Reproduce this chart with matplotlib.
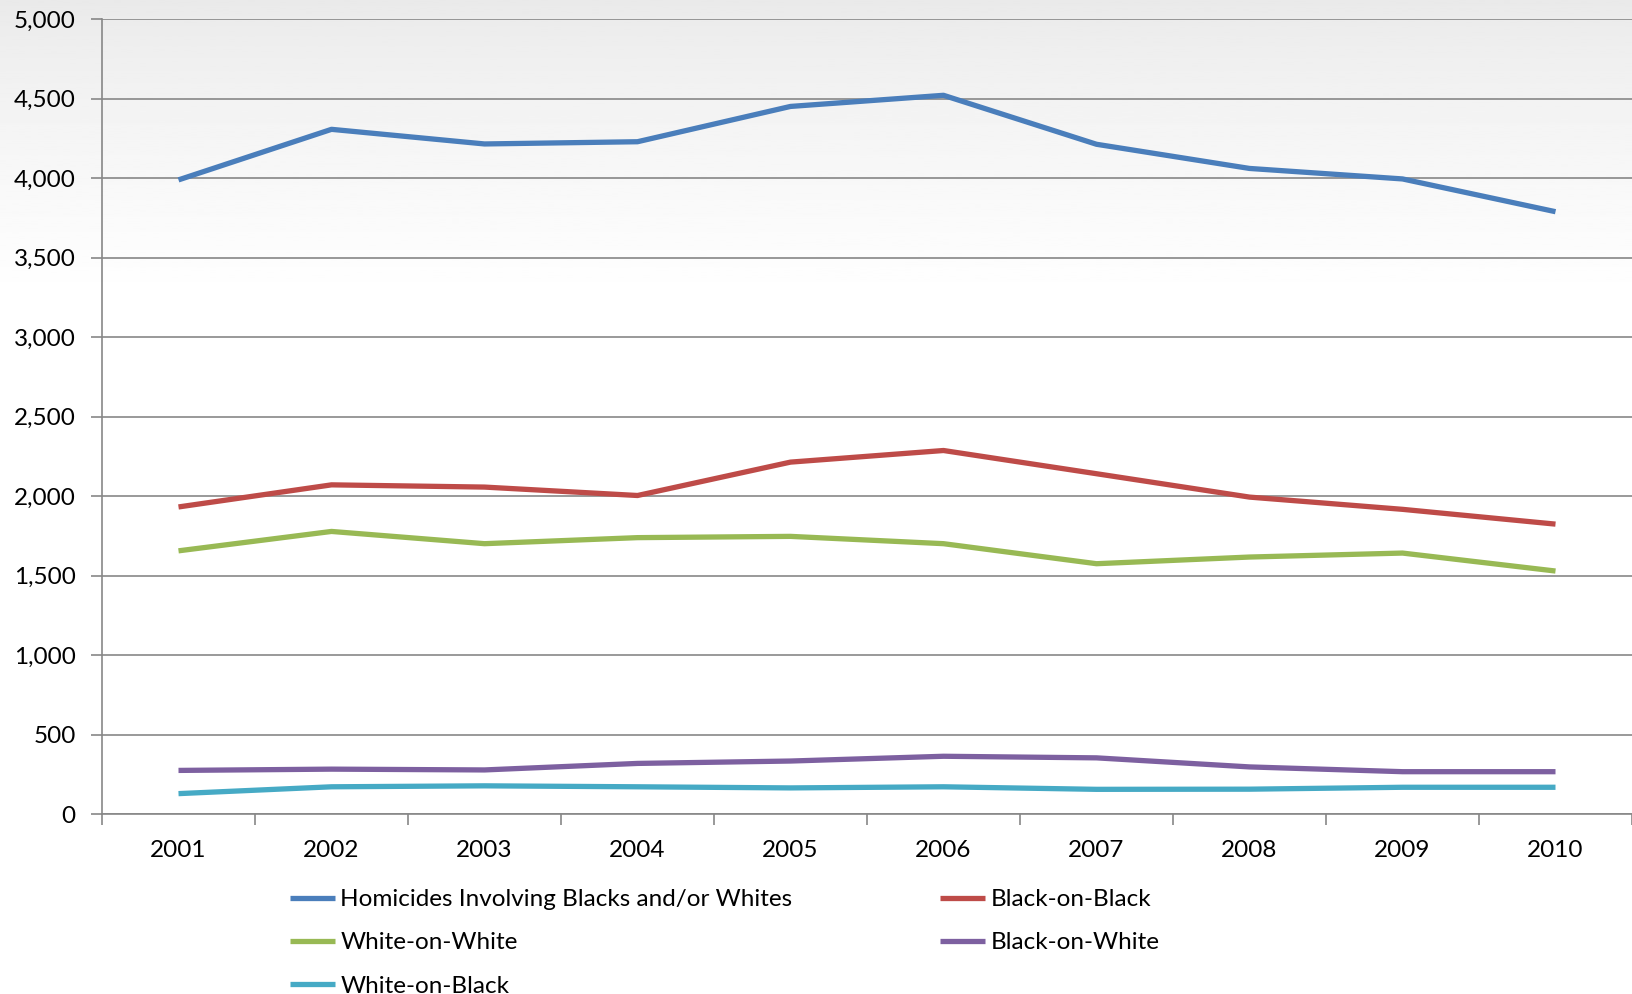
import numpy as np
import matplotlib.pyplot as plt
from matplotlib.ticker import FuncFormatter, FixedLocator

years = ['2001', '2002', '2003', '2004', '2005', '2006', '2007', '2008', '2009', '2010']
total = [3990, 4308, 4216, 4230, 4452, 4522, 4214, 4062, 3996, 3790]
black_on_black = [1933, 2072, 2058, 2005, 2215, 2288, 2142, 1995, 1918, 1825]
white_on_white = [1657, 1779, 1702, 1740, 1748, 1702, 1576, 1618, 1643, 1530]
black_on_white = [276, 284, 279, 320, 335, 365, 355, 298, 268, 268]
white_on_black = [130, 173, 179, 173, 166, 173, 157, 158, 170, 170]

series = [
    ('Homicides Involving Blacks and/or Whites', total, '#4a7ebb'),
    ('Black-on-Black', black_on_black, '#be4b48'),
    ('White-on-White', white_on_white, '#98b954'),
    ('Black-on-White', black_on_white, '#7d60a0'),
    ('White-on-Black', white_on_black, '#46aac5'),
]

plt.rcParams['font.family'] = ['Lato', 'DejaVu Sans']
W, H = 1632, 994
fs = 17.5
fig = plt.figure(figsize=(W / 100, H / 100), dpi=100)

# light gray gradient fading out from the top
bg = fig.add_axes([0, 0, 1, 1], zorder=-1)
t = np.linspace(0, 1, 400)
shade = np.clip(t / 0.30, 0, 1) ** 0.8
grad = 0.915 + 0.085 * shade
bg.imshow(grad[:, None], aspect='auto', cmap='gray', vmin=0, vmax=1,
          extent=[0, 1, 0, 1], origin='upper')
bg.axis('off')

ax = fig.add_axes([102 / W, 1 - 814.3 / H, 1 - 102 / W, (814.3 - 19.3) / H])
ax.patch.set_alpha(0)
x = np.arange(len(years))
lines = {}
for name, vals, col in series:
    lines[name], = ax.plot(x, vals, color=col, lw=3.8, solid_capstyle='butt',
                           solid_joinstyle='round', label=name, zorder=3)

ax.set_xlim(-0.5, len(years) - 0.5)
ax.set_ylim(0, 5000)
ax.set_yticks(np.arange(0, 5001, 500))
ax.yaxis.set_major_formatter(FuncFormatter(lambda v, p: f'{int(v):,}'))
ax.grid(axis='y', color='#878787', lw=1.2, zorder=1)
ax.xaxis.set_major_locator(FixedLocator(np.arange(-0.5, len(years), 1.0)))
ax.xaxis.set_major_formatter(FuncFormatter(lambda v, p: ''))
ax.xaxis.set_minor_locator(FixedLocator(x))
ax.set_xticklabels(years, minor=True)
ax.tick_params(axis='x', which='major', length=8, width=1.2, color='#878787', direction='out')
ax.tick_params(axis='x', which='minor', length=0, pad=18.5, labelsize=fs)
ax.tick_params(axis='y', length=8, width=1.2, color='#878787', pad=11, labelsize=fs)
for s in ['top', 'right']:
    ax.spines[s].set_visible(False)
for s in ['left', 'bottom']:
    ax.spines[s].set_color('#878787')
    ax.spines[s].set_linewidth(1.2)

leg_kw = dict(loc='upper left', frameon=False, fontsize=fs, borderpad=0,
              borderaxespad=0, handlelength=1.85, handletextpad=0.22, labelspacing=0.92)
col1 = ['Homicides Involving Blacks and/or Whites', 'White-on-White', 'White-on-Black']
col2 = ['Black-on-Black', 'Black-on-White']
fig.legend([lines[n] for n in col1], col1, bbox_to_anchor=(290 / W, 1 - 889 / H), **leg_kw)
fig.legend([lines[n] for n in col2], col2, bbox_to_anchor=(940 / W, 1 - 889 / H), **leg_kw)

fig.savefig('out.png', dpi=100)
